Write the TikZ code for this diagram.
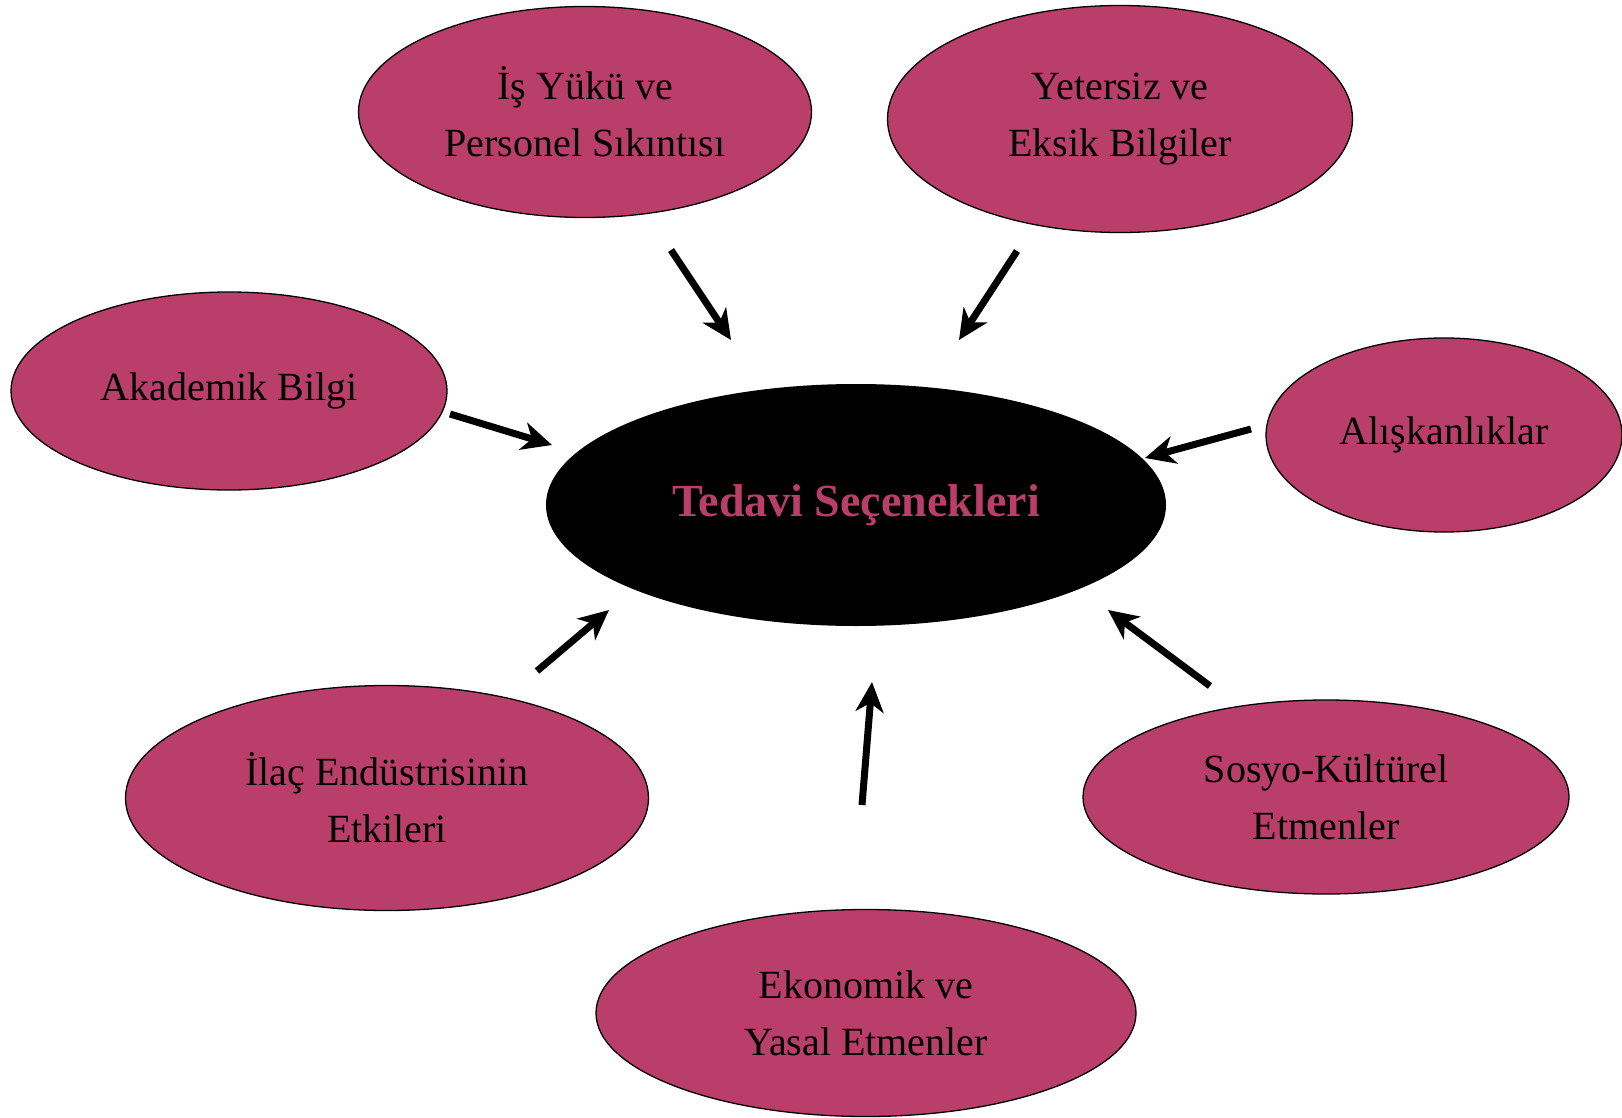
\documentclass[tikz,border=0pt]{standalone}
\usepackage{fontspec}
\setmainfont{Liberation Serif}
\usetikzlibrary{shapes.geometric,arrows.meta}
\definecolor{gulkurusu}{RGB}{185,62,105}

\begin{document}
\begin{tikzpicture}[x=1pt,y=-1pt,
  etken/.style={ellipse,draw=black,line width=1.3pt,fill=gulkurusu,inner sep=0pt,
    align=center,font=\fontsize{40}{57}\selectfont},
  ok/.style={line width=7pt,-{Stealth[length=30pt,width=28pt,inset=9pt]}}]
\useasboundingbox (0,0) rectangle (1622,1118);
\node[ellipse,fill=black,inner sep=0pt,minimum width=620,minimum height=242,
  text=gulkurusu,font=\fontsize{46}{50}\selectfont\bfseries] (merkez) at (856,505) {Tedavi Seçenekleri};
\node[etken,minimum width=453,minimum height=211] (is) at (585,112) {İş Yükü ve\\Personel Sıkıntısı};
\node[etken,minimum width=465,minimum height=227] (yetersiz) at (1120,119) {Yetersiz ve\\Eksik Bilgiler};
\node[etken,minimum width=436,minimum height=198] (akademik) at (229,391) {Akademik Bilgi};
\node[etken,minimum width=356,minimum height=194] (aliskanlik) at (1444,435) {Alışkanlıklar};
\node[etken,minimum width=523,minimum height=225] (ilac) at (387,798) {İlaç Endüstrisinin\\Etkileri};
\node[etken,minimum width=486,minimum height=194] (sosyo) at (1326,797) {Sosyo-Kültürel\\Etmenler};
\node[etken,minimum width=540,minimum height=207] (ekonomik) at (866,1013) {Ekonomik ve\\Yasal Etmenler};
% ok uclari
\coordinate (is-u) at (671,250);       \coordinate (is-b) at (731,340);
\coordinate (yetersiz-u) at (1017,251); \coordinate (yetersiz-b) at (959,340);
\coordinate (akademik-u) at (450,414); \coordinate (akademik-b) at (552,445);
\coordinate (aliskanlik-u) at (1251,429); \coordinate (aliskanlik-b) at (1145,458);
\coordinate (ilac-u) at (537,671);     \coordinate (ilac-b) at (609,610);
\coordinate (sosyo-u) at (1210,686);   \coordinate (sosyo-b) at (1108,610);
\coordinate (ekonomik-u) at (862,805); \coordinate (ekonomik-b) at (872,682);
\foreach \e in {is,yetersiz,akademik,aliskanlik,ilac,sosyo,ekonomik}
  \draw[ok] (\e-u) -- (\e-b);
\end{tikzpicture}
\end{document}
